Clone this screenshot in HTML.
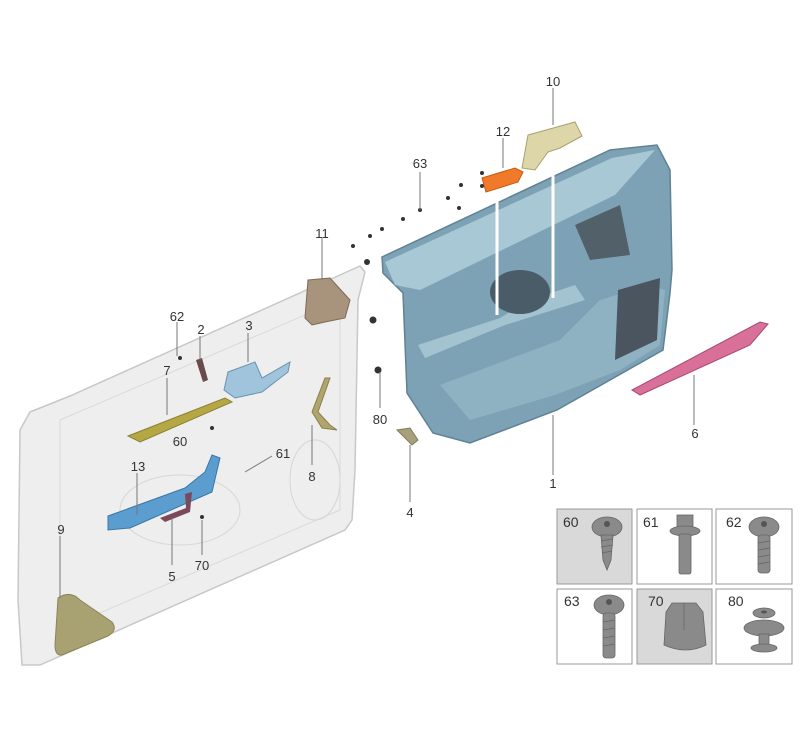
<!DOCTYPE html>
<html><head><meta charset="utf-8"><style>
html,body{margin:0;padding:0;background:#fff;}
svg{display:block;font-family:"Liberation Sans",sans-serif;}
.l{font-size:13px;fill:#333;text-anchor:middle;}
.ln{stroke:#777;stroke-width:1;fill:none;}
.wl{stroke:#fff;stroke-width:3;}
</style></head><body>
<svg width="800" height="745" viewBox="0 0 800 745">
<!-- door frame -->
<path d="M30,412 L70,396 L360,266 L365,272 L358,300 L355,470 L352,520 L345,530 L40,665 L22,665 L18,600 L20,430 Z" fill="#eeeeee" stroke="#c8c8c8" stroke-width="1.5"/>
<path d="M60,420 L340,300 L340,510 L60,630 Z" fill="none" stroke="#dadada" stroke-width="1"/>
<ellipse cx="180" cy="510" rx="60" ry="35" fill="none" stroke="#d6d6d6"/>
<ellipse cx="315" cy="480" rx="25" ry="40" fill="none" stroke="#d6d6d6"/>
<!-- part 9 -->
<path d="M58,598 Q70,590 80,600 L112,622 Q118,630 108,636 L62,655 Q55,656 55,645 Z" fill="#a8a272" stroke="#8a845a"/>
<!-- 11 -->
<path d="M308,280 L330,278 L350,300 L345,318 L325,322 L312,325 L305,318 Z" fill="#a8947c" stroke="#7c6a56"/>
<!-- 3 -->
<path d="M228,372 L255,362 L262,378 L290,362 L288,372 L262,392 L235,398 L224,390 Z" fill="#9fc4dc" stroke="#6b93ad"/>
<!-- 7 -->
<path d="M128,436 L225,398 L232,402 L140,442 Z" fill="#b5a844" stroke="#8a7f30"/>
<!-- 13 -->
<path d="M108,516 L185,488 L205,472 L212,455 L220,458 L212,492 L130,528 L108,530 Z" fill="#5c9dd0" stroke="#3b76a5"/>
<!-- 8 -->
<path d="M325,378 L330,378 L318,412 L330,425 L337,430 L322,428 L312,412 Z" fill="#b0a56a" stroke="#888050"/>
<!-- 2 / 5 -->
<path d="M196,360 L202,358 L208,380 L203,382 Z" fill="#6a4a4a"/>
<path d="M185,494 L192,492 L190,512 L165,522 L160,518 L186,508 Z" fill="#7a4a5a"/>
<!-- panel 1 -->
<path d="M382,257 L610,150 L657,145 L670,170 L672,270 L670,293 L663,350 L557,410 L470,443 L433,433 L407,393 L403,293 L383,273 Z" fill="#7ea2b5" stroke="#5f8294" stroke-width="1.5"/>
<path d="M385,262 L612,158 L655,150 L615,195 L420,290 L395,285 Z" fill="#a9c8d6"/>
<path d="M440,385 L560,340 L600,300 L650,285 L665,290 L660,345 L620,370 L555,395 L470,420 Z" fill="#8fb2c3"/>
<path d="M418,345 L500,318 L530,300 L575,285 L585,300 L505,325 L425,358 Z" fill="#a3c3d1"/>
<ellipse cx="520" cy="292" rx="30" ry="22" fill="#4a5c68"/>
<path d="M618,290 L660,278 L657,340 L615,360 Z" fill="#4a5560"/>
<path d="M575,225 L620,205 L630,255 L590,260 Z" fill="#52606a"/>
<line x1="497" y1="192" x2="497" y2="315" class="wl"/>
<line x1="553" y1="158" x2="553" y2="298" class="wl"/>
<!-- 12 -->
<path d="M482,178 L515,168 L523,172 L518,182 L486,192 Z" fill="#f07a2a" stroke="#c85a10"/>
<!-- 10 -->
<path d="M528,135 L575,122 L582,136 L560,148 L548,152 L535,170 L522,168 Z" fill="#ddd6a8" stroke="#a8a070"/>
<!-- 6 -->
<path d="M632,390 L760,322 L768,324 L750,345 L640,395 Z" fill="#d8709a" stroke="#a84a72"/>
<!-- 4 -->
<path d="M397,430 L410,428 L418,440 L412,445 Z" fill="#a8a07a" stroke="#807a58"/>
<!-- small fasteners -->
<g fill="#333">
<circle cx="482" cy="173" r="2"/><circle cx="461" cy="185" r="2"/><circle cx="482" cy="186" r="2"/><circle cx="448" cy="198" r="2"/><circle cx="459" cy="208" r="2"/><circle cx="420" cy="210" r="2"/><circle cx="403" cy="219" r="2"/><circle cx="382" cy="229" r="2"/><circle cx="370" cy="236" r="2"/><circle cx="353" cy="246" r="2"/><circle cx="367" cy="262" r="3"/>
<circle cx="373" cy="320" r="3.5"/><circle cx="378" cy="370" r="3.5"/><circle cx="180" cy="358" r="2"/><circle cx="212" cy="428" r="2"/><circle cx="202" cy="517" r="2"/>
</g>
<!-- leader lines -->
<g class="ln">
<line x1="553" y1="88" x2="553" y2="125"/><line x1="503" y1="138" x2="503" y2="168"/><line x1="420" y1="172" x2="420" y2="210"/>
<line x1="322" y1="238" x2="322" y2="280"/><line x1="177" y1="322" x2="177" y2="356"/><line x1="200" y1="336" x2="200" y2="360"/><line x1="248" y1="333" x2="248" y2="362"/>
<line x1="167" y1="378" x2="167" y2="415"/><line x1="137" y1="473" x2="137" y2="515"/><line x1="60" y1="536" x2="60" y2="598"/>
<line x1="172" y1="518" x2="172" y2="565"/><line x1="202" y1="520" x2="202" y2="555"/><line x1="312" y1="425" x2="312" y2="465"/>
<line x1="272" y1="456" x2="245" y2="472"/><line x1="380" y1="372" x2="380" y2="408"/><line x1="410" y1="445" x2="410" y2="502"/>
<line x1="553" y1="415" x2="553" y2="475"/><line x1="694" y1="375" x2="694" y2="425"/>
</g>
<text class="l" x="553" y="86">10</text><text class="l" x="503" y="136">12</text><text class="l" x="420" y="168">63</text>
<text class="l" x="322" y="238">11</text><text class="l" x="177" y="321">62</text><text class="l" x="201" y="334">2</text><text class="l" x="249" y="330">3</text>
<text class="l" x="167" y="375">7</text><text class="l" x="180" y="446">60</text><text class="l" x="283" y="458">61</text><text class="l" x="138" y="471">13</text>
<text class="l" x="312" y="481">8</text><text class="l" x="61" y="534">9</text><text class="l" x="172" y="581">5</text><text class="l" x="202" y="570">70</text>
<text class="l" x="380" y="424">80</text><text class="l" x="410" y="517">4</text><text class="l" x="553" y="488">1</text><text class="l" x="695" y="438">6</text>
<!-- fastener grid -->
<g stroke="#999" stroke-width="1">
<rect x="557" y="509" width="75" height="75" fill="#d9d9d9"/>
<rect x="637" y="509" width="75" height="75" fill="#fff"/>
<rect x="716" y="509" width="76" height="75" fill="#fff"/>
<rect x="557" y="589" width="75" height="75" fill="#fff"/>
<rect x="637" y="589" width="75" height="75" fill="#d9d9d9"/>
<rect x="716" y="589" width="76" height="75" fill="#fff"/>
</g>
<g font-size="14" fill="#333">
<text x="563" y="527">60</text><text x="643" y="527">61</text><text x="726" y="527">62</text>
<text x="564" y="606">63</text><text x="648" y="606">70</text><text x="728" y="606">80</text>
</g>
<g fill="#8a8a8a" stroke="#666" stroke-width="0.8">
<ellipse cx="607" cy="527" rx="15" ry="10"/><path d="M601,535 L613,535 L611,560 L607,570 L603,560 Z"/>
<rect x="677" y="515" width="16" height="14"/><ellipse cx="685" cy="531" rx="15" ry="5"/><rect x="679" y="534" width="12" height="40" rx="2"/>
<ellipse cx="764" cy="527" rx="15" ry="10"/><rect x="758" y="535" width="12" height="38" rx="3"/>
<ellipse cx="609" cy="605" rx="15" ry="10"/><rect x="603" y="613" width="12" height="45" rx="3"/>
<path d="M664,645 L666,612 L672,603 L696,603 L703,612 L706,645 Q686,655 664,645 Z"/>
<ellipse cx="764" cy="613" rx="11" ry="5"/><ellipse cx="764" cy="628" rx="20" ry="8"/><rect x="759" y="634" width="10" height="14"/><ellipse cx="764" cy="648" rx="13" ry="4"/>
</g>
<g stroke="#666" stroke-width="0.8">
<line x1="601" y1="541" x2="613" y2="539"/><line x1="601" y1="547" x2="613" y2="545"/><line x1="602" y1="553" x2="612" y2="551"/>
<line x1="758" y1="543" x2="770" y2="541"/><line x1="758" y1="550" x2="770" y2="548"/><line x1="758" y1="557" x2="770" y2="555"/><line x1="758" y1="564" x2="770" y2="562"/>
<line x1="603" y1="622" x2="615" y2="620"/><line x1="603" y1="630" x2="615" y2="628"/><line x1="603" y1="638" x2="615" y2="636"/><line x1="603" y1="646" x2="615" y2="644"/>
<line x1="684" y1="603" x2="684" y2="630"/>
</g>
<g fill="#555"><circle cx="607" cy="524" r="3"/><circle cx="764" cy="524" r="3"/><circle cx="609" cy="602" r="3"/><ellipse cx="764" cy="612" rx="3" ry="1.5"/></g>
</svg>
</body></html>
